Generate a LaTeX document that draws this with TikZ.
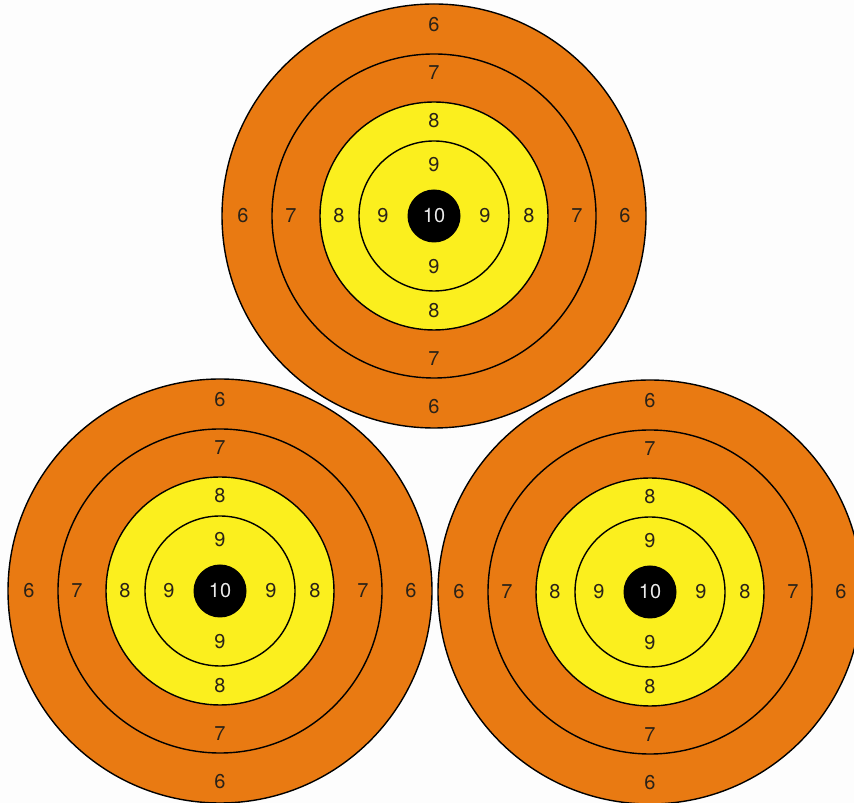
\documentclass[tikz,border=0pt]{standalone}
\usepackage{fontspec}
\setmainfont{TeX Gyre Heros}
\usepackage{tikz}
\usetikzlibrary{positioning}
\usepackage{xcolor}
\definecolor{ringorange}{HTML}{E97A12}
\definecolor{ringyellow}{HTML}{FBEF1E}
\definecolor{paper}{HTML}{FDFDFD}
\definecolor{digit}{HTML}{2A2218}

\tikzset{
  ring/.style={circle,draw=black,line width=1.4pt,inner sep=0pt},
  score/.style={font=\fontsize{20}{20}\selectfont,text=digit,inner sep=0pt},
  pics/target/.style={code={
    \node[ring,fill=ringorange,minimum size=424pt] (-six) at (0,0) {};
    \node[ring,fill=ringorange,minimum size=324pt] (-seven) at (0,0) {};
    \node[ring,fill=ringyellow,minimum size=228pt] (-eight) at (0,0) {};
    \node[ring,fill=ringyellow,minimum size=150pt] (-nine) at (0,0) {};
    \node[circle,fill=black,minimum size=53pt,inner sep=0pt,
          font=\fontsize{20}{20}\selectfont,text=white!92!black] (-ten) at (0,0) {10};
    % scores round each ring
    \foreach \d/\n in {191/6,143/7,95/8,51/9}{
      \foreach \a in {0,90,180,270}
        \node[score] (-s\n-\a) at (\a:\d pt) {\n};
    }
  }}
}

\begin{document}
\begin{tikzpicture}[x=1pt,y=1pt]
\fill[paper] (0,0) rectangle (854,803);
\useasboundingbox (0,0) rectangle (854,803);
\clip (0,0) rectangle (854,803);
\pic (top) at (434,587) {target};
\pic (left) at (220,212) {target};
\pic (right) at (650,211) {target};
\end{tikzpicture}
\end{document}
